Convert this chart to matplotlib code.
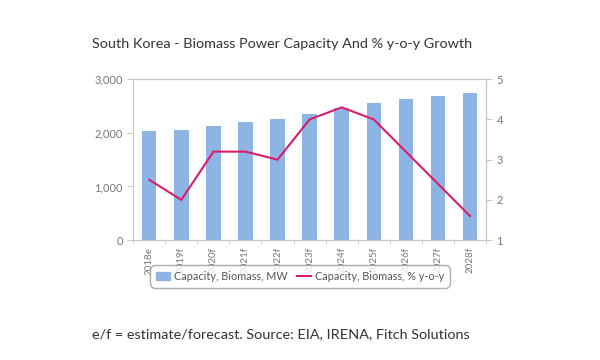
import matplotlib.pyplot as plt
import numpy as np
from matplotlib.lines import Line2D
from matplotlib.patches import Patch

plt.rcParams['font.family'] = ['Lato', 'DejaVu Sans']

years = ['2018e', '2019f', '2020f', '2021f', '2022f', '2023f',
         '2024f', '2025f', '2026f', '2027f', '2028f']
capacity_mw = [2030, 2060, 2130, 2205, 2260, 2360, 2465, 2555, 2635, 2695, 2740]
growth_pct = [2.5, 2.0, 3.2, 3.2, 3.0, 4.0, 4.3, 4.0, 3.2, 2.4, 1.6]

bar_color = '#8db4e3'
line_color = '#d81e6a'
axis_grey = '#c8c8c8'
text_grey = '#777777'

fig = plt.figure(figsize=(6, 3.6), dpi=100)
ax = fig.add_axes([0.222, 0.333, 0.588, 0.447])
x = np.arange(len(years))
ax.bar(x, capacity_mw, width=0.45, color=bar_color, zorder=2)
ax.set_xlim(-0.5, len(years) - 0.5)
ax.set_ylim(0, 3000)
ax.set_yticks([0, 1000, 2000, 3000])
ax.set_yticklabels(['0', '1,000', '2,000', '3,000'])
ax.set_xticks(x)
ax.set_xticklabels(years, rotation=90)
ax.set_xticks(np.arange(-0.5, len(years)), minor=True)
ax.tick_params(axis='x', which='major', length=0, pad=5, labelsize=7, labelcolor=text_grey)
ax.tick_params(axis='x', which='minor', length=3, color=axis_grey)
ax.tick_params(axis='y', length=4, color=axis_grey, labelsize=8, labelcolor=text_grey)
for s in ax.spines.values():
    s.set_color(axis_grey)
    s.set_linewidth(0.8)

ax2 = ax.twinx()
ax2.plot(x, growth_pct, color=line_color, linewidth=1.5, zorder=3)
ax2.set_ylim(1, 5)
ax2.set_yticks([1, 2, 3, 4, 5])
ax2.tick_params(axis='y', length=4, color=axis_grey, labelsize=8, labelcolor=text_grey)
for s in ax2.spines.values():
    s.set_color(axis_grey)
    s.set_linewidth(0.8)

handles = [Patch(color=bar_color, label='Capacity, Biomass, MW'),
           Line2D([0], [0], color=line_color, linewidth=1.5,
                  label='Capacity, Biomass, % y-o-y')]
leg = fig.legend(handles=handles, loc='center', bbox_to_anchor=(0.5, 0.233),
                 ncol=2, fontsize=7.8, frameon=True, handlelength=1.3,
                 handletextpad=0.4, columnspacing=0.8, borderpad=0.35)
leg.get_frame().set_edgecolor('#999999')
leg.get_frame().set_boxstyle('round,pad=0.2,rounding_size=0.5')
for t in leg.get_texts():
    t.set_color('#555555')

fig.text(0.153, 0.878, 'South Korea - Biomass Power Capacity And % y-o-y Growth',
         fontsize=10.4, color='#333333', va='center')
fig.text(0.153, 0.072, 'e/f = estimate/forecast. Source: EIA, IRENA, Fitch Solutions',
         fontsize=10.4, color='#333333', va='center')

fig.savefig('out.png', dpi=100)
